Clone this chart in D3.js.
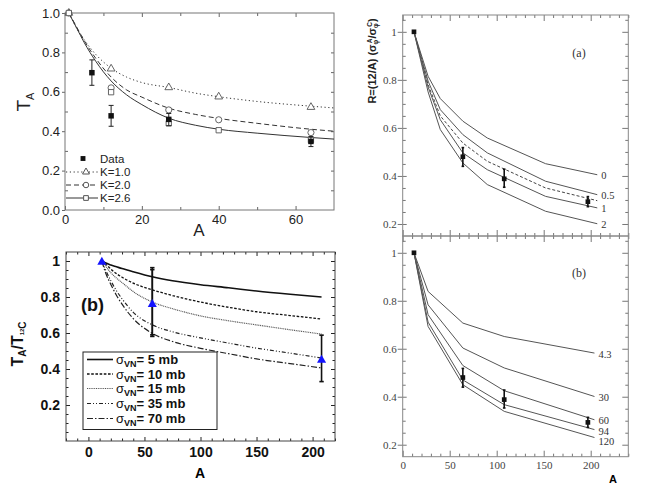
<!DOCTYPE html>
<html>
<head>
<meta charset="utf-8">
<script src="https://cdn.jsdelivr.net/npm/d3@7"></script>
<style>
body { margin: 0; background: #fff; }
svg { display: block; }
</style>
</head>
<body>
<svg id="fig" width="654" height="491"></svg>
<script>
// ---------- panel 1 (top left): T_A vs A ----------
const p1DataA  = [7, 12, 27, 64];
const p1DataT  = [0.697, 0.478, 0.460, 0.348];
const p1DataLo = [0.633, 0.425, 0.428, 0.322];
const p1DataHi = [0.762, 0.531, 0.490, 0.373];

const p1MarkA  = [1, 12, 27, 40, 64];
const p1MarkK10 = [1.0, 0.717, 0.622, 0.575, 0.522];
const p1MarkK20 = [1.0, 0.620, 0.508, 0.458, 0.393];
const p1MarkK26 = [1.0, 0.598, 0.440, 0.405, 0.355];

const p1CurveA  = [1, 3, 5, 8, 12, 16, 20, 27, 34, 40, 50, 64, 70];
const p1CurveK10 = [1.0, 0.924, 0.864, 0.790, 0.720, 0.675, 0.647, 0.622, 0.593, 0.575, 0.551, 0.527, 0.518];
const p1CurveK20 = [1.0, 0.930, 0.860, 0.770, 0.675, 0.610, 0.573, 0.517, 0.485, 0.465, 0.440, 0.410, 0.400];
const p1CurveK26 = [1.0, 0.925, 0.850, 0.755, 0.655, 0.585, 0.535, 0.466, 0.430, 0.410, 0.390, 0.368, 0.360];
const p1Legend = ["Data", "K=1.0", "K=2.0", "K=2.6"];

// ---------- panel 2 (bottom left): T_A/T_12C vs A ----------
const p2CurveA = [12, 15, 20, 25, 30, 40, 57, 75, 100, 125, 150, 180, 208];
const p2S5  = [1.0, 0.990, 0.978, 0.968, 0.958, 0.940, 0.912, 0.890, 0.868, 0.851, 0.833, 0.815, 0.800];
const p2S10 = [1.0, 0.985, 0.955, 0.930, 0.910, 0.877, 0.840, 0.808, 0.772, 0.743, 0.718, 0.697, 0.678];
const p2S15 = [1.0, 0.975, 0.935, 0.905, 0.880, 0.830, 0.772, 0.735, 0.695, 0.668, 0.645, 0.618, 0.594];
const p2S35 = [1.0, 0.955, 0.890, 0.835, 0.790, 0.715, 0.645, 0.607, 0.573, 0.544, 0.516, 0.488, 0.461];
const p2S70 = [1.0, 0.940, 0.870, 0.810, 0.760, 0.680, 0.598, 0.553, 0.515, 0.485, 0.456, 0.430, 0.406];
const p2SigmaLabels = [" 5 mb", "10 mb", "15 mb", "35 mb", "70 mb"];

const p2DataA = [12, 57, 208];
const p2DataT = [1.0, 0.765, 0.455];
const p2ErrA  = [57, 57, 208];
const p2ErrLo = [0.590, 0.581, 0.330];
const p2ErrHi = [0.963, 0.952, 0.588];

// ---------- panels 3/4 (right): R vs A ----------
const rDataA  = [12, 64, 108, 197];
const rDataR  = [1.0, 0.480, 0.388, 0.293];
const rDataLo = [null, 0.440, 0.353, 0.272];
const rDataHi = [null, 0.518, 0.428, 0.314];

const p3A   = [12, 27, 40, 64, 90, 152, 207];
const p3R0  = [1.0, 0.815, 0.722, 0.628, 0.558, 0.451, 0.405];
const p3R05 = [1.0, 0.795, 0.676, 0.572, 0.496, 0.378, 0.322];
const p3Rd  = [1.0, 0.780, 0.650, 0.537, 0.461, 0.350, 0.297];
const p3R1  = [1.0, 0.770, 0.634, 0.496, 0.426, 0.315, 0.267];
const p3R2  = [1.0, 0.750, 0.593, 0.454, 0.364, 0.253, 0.201];
const p3Labels = ["0", "0.5", "", "1", "2"];

const p4A    = [12, 27, 64, 108, 204];
const p4R43  = [1.0, 0.839, 0.707, 0.651, 0.582];
const p4R30  = [1.0, 0.783, 0.603, 0.520, 0.401];
const p4R60  = [1.0, 0.742, 0.530, 0.425, 0.304];
const p4R94  = [1.0, 0.711, 0.470, 0.367, 0.263];
const p4R120 = [1.0, 0.693, 0.450, 0.339, 0.230];
const p4Labels = ["4.3", "30", "60", "94", "120"];

// ---------- helpers ----------
const svg = d3.select("#fig");
const SANS = "'Liberation Sans', Arial, Helvetica, sans-serif";
const SERIF = "'Liberation Serif', 'Times New Roman', serif";

function tickRow(pos, axisGen, scale, vals, size, color, fmt, pad) {
  const g = svg.append("g").attr("transform", pos)
    .call(axisGen(scale).tickValues(vals).tickSize(size).tickPadding(pad || 3)
      .tickFormat(fmt || (() => "")));
  g.select(".domain").remove();
  g.selectAll("line").attr("stroke", color);
  return g;
}

function frame(b, color, w) {
  svg.append("rect")
    .attr("x", b.l).attr("y", b.t)
    .attr("width", b.r - b.l).attr("height", b.b - b.t)
    .attr("fill", "none").attr("stroke", color).attr("stroke-width", w);
}

function errBars(xs, ys, lo, hi, xS, yS, cap, color, w) {
  const g = svg.append("g").attr("stroke", color).attr("stroke-width", w);
  xs.forEach((a, i) => {
    if (lo[i] == null) return;
    const x = xS(a);
    g.append("line").attr("x1", x).attr("x2", x).attr("y1", yS(lo[i])).attr("y2", yS(hi[i]));
    [lo[i], hi[i]].forEach(v => g.append("line")
      .attr("x1", x - cap).attr("x2", x + cap).attr("y1", yS(v)).attr("y2", yS(v)));
  });
}

// =============== panel 1 ===============
const b1 = {l: 65, r: 334, t: 13, b: 210};
const x1 = d3.scaleLinear().domain([0, 70]).range([b1.l, b1.r]);
const y1 = d3.scaleLinear().domain([0, 1]).range([b1.b, b1.t]);
const c1 = "#666";

tickRow(`translate(0,${b1.b})`, d3.axisBottom, x1, [0, 20, 40, 60], -4, c1, d3.format("d"), 5)
  .attr("font-family", SANS).attr("font-size", 13).selectAll("text").attr("fill", "#222");
tickRow(`translate(0,${b1.b})`, d3.axisBottom, x1, [10, 30, 50], -3, c1);
tickRow(`translate(0,${b1.t})`, d3.axisTop, x1, [20, 40, 60], -4, c1);
tickRow(`translate(0,${b1.t})`, d3.axisTop, x1, [10, 30, 50], -3, c1);
tickRow(`translate(${b1.l},0)`, d3.axisLeft, y1, [0, 0.2, 0.4, 0.6, 0.8, 1.0], 3, c1, d3.format(".1f"), 2)
  .attr("font-family", SANS).attr("font-size", 13).selectAll("text").attr("fill", "#222");
tickRow(`translate(${b1.l},0)`, d3.axisLeft, y1, [0.1, 0.3, 0.5, 0.7, 0.9], -3, c1);
tickRow(`translate(${b1.r},0)`, d3.axisRight, y1, d3.range(1, 10).map(i => i / 10), -3, c1);
frame(b1, "#777", 1);

const line1 = d3.line().x((d, i) => x1(p1CurveA[i])).y(d => y1(d)).curve(d3.curveMonotoneX);
const p1Styles = [
  {v: p1CurveK10, m: p1MarkK10, dash: "1.2,2.6", sym: d3.symbolTriangle, size: 26},
  {v: p1CurveK20, m: p1MarkK20, dash: "5,3", sym: d3.symbolCircle, size: 30},
  {v: p1CurveK26, m: p1MarkK26, dash: null, sym: d3.symbolSquare, size: 28}
];
p1Styles.forEach(s => {
  svg.append("path").attr("d", line1(s.v)).attr("fill", "none")
    .attr("stroke", "#333").attr("stroke-width", 1).attr("stroke-dasharray", s.dash);
});
p1Styles.forEach(s => {
  svg.append("g").selectAll("path").data(s.m).join("path")
    .attr("transform", (d, i) => `translate(${x1(p1MarkA[i])},${y1(d)})`)
    .attr("d", d3.symbol(s.sym, s.size)).attr("fill", "#fff").attr("stroke", "#555").attr("stroke-width", 0.9);
});
errBars(p1DataA, p1DataT, p1DataLo, p1DataHi, x1, y1, 2.5, "#222", 1);
svg.append("g").selectAll("path").data(p1DataT).join("path")
  .attr("transform", (d, i) => `translate(${x1(p1DataA[i])},${y1(d)})`)
  .attr("d", d3.symbol(d3.symbolSquare, 30)).attr("fill", "#111");

// legend
const lg1Y = [158.5, 172, 185, 198];
svg.append("path").attr("transform", `translate(83,${lg1Y[0]})`)
  .attr("d", d3.symbol(d3.symbolSquare, 24)).attr("fill", "#111");
p1Styles.forEach((s, i) => {
  const y = lg1Y[i + 1];
  svg.append("line").attr("x1", 66).attr("x2", 98).attr("y1", y).attr("y2", y)
    .attr("stroke", "#333").attr("stroke-dasharray", s.dash);
  svg.append("path").attr("transform", `translate(86,${y})`)
    .attr("d", d3.symbol(s.sym, s.size * 0.8)).attr("fill", "#fff").attr("stroke", "#555");
});
svg.append("g").selectAll("text").data(p1Legend).join("text")
  .attr("x", 100).attr("y", (d, i) => lg1Y[i]).attr("dy", "0.36em")
  .attr("font-family", SANS).attr("font-size", 11.5).attr("fill", "#222").text(d => d);

svg.append("text").attr("x", 199).attr("y", 236).attr("text-anchor", "middle")
  .attr("font-family", SANS).attr("font-size", 17).attr("fill", "#222").text("A");
const t1 = svg.append("text").attr("transform", "translate(30,102) rotate(-90)")
  .attr("text-anchor", "middle").attr("font-family", SANS).attr("fill", "#222");
t1.append("tspan").attr("font-size", 19).text("T");
t1.append("tspan").attr("font-size", 11).attr("dy", 4).text("A");

// =============== panel 2 ===============
const b2 = {l: 66, r: 335, t: 252, b: 441};
const x2 = d3.scaleLinear().domain([-20, 220]).range([b2.l, b2.r]);
const y2 = d3.scaleLinear().domain([0, 1.05]).range([b2.b, b2.t]);
const c2 = "#222";
const minor2x = d3.range(-20, 221, 10).filter(v => v % 50 !== 0);
const minor2y = d3.range(1, 21).map(i => i * 0.05).filter((v, i) => (i + 1) % 4 !== 0);

tickRow(`translate(0,${b2.b})`, d3.axisBottom, x2, [0, 50, 100, 150, 200], -4, c2, d3.format("d"), 6)
  .attr("font-family", SANS).attr("font-size", 14).attr("font-weight", "bold")
  .selectAll("text").attr("fill", "#111");
tickRow(`translate(0,${b2.b})`, d3.axisBottom, x2, minor2x, -2.5, c2);
tickRow(`translate(0,${b2.t})`, d3.axisTop, x2, [0, 50, 100, 150, 200], -4, c2);
tickRow(`translate(0,${b2.t})`, d3.axisTop, x2, minor2x, -2.5, c2);
tickRow(`translate(${b2.l},0)`, d3.axisLeft, y2, [0.2, 0.4, 0.6, 0.8, 1], -4, c2, d3.format("~g"), 6)
  .attr("font-family", SANS).attr("font-size", 14).attr("font-weight", "bold")
  .selectAll("text").attr("fill", "#111");
tickRow(`translate(${b2.l},0)`, d3.axisLeft, y2, minor2y, -2.5, c2);
tickRow(`translate(${b2.r},0)`, d3.axisRight, y2, [0.2, 0.4, 0.6, 0.8, 1], -4, c2);
tickRow(`translate(${b2.r},0)`, d3.axisRight, y2, minor2y, -2.5, c2);
frame(b2, "#444", 1);

const line2 = d3.line().x((d, i) => x2(p2CurveA[i])).y(d => y2(d)).curve(d3.curveMonotoneX);
const p2Styles = [
  {v: p2S5,  dash: null,            w: 1.6, c: "#111"},
  {v: p2S10, dash: "2.6,1.6",       w: 1.3, c: "#111"},
  {v: p2S15, dash: "1,0.8",         w: 1.2, c: "#555"},
  {v: p2S35, dash: "4,2,1,2,1,2",   w: 1.2, c: "#222"},
  {v: p2S70, dash: "6,2,1.5,2",     w: 1.2, c: "#222"}
];
p2Styles.forEach(s => {
  svg.append("path").attr("d", line2(s.v)).attr("fill", "none")
    .attr("stroke", s.c).attr("stroke-width", s.w).attr("stroke-dasharray", s.dash);
});

// legend box
svg.append("rect").attr("x", 83).attr("y", 352).attr("width", 134).attr("height", 77.5)
  .attr("fill", "#fff").attr("stroke", "#222").attr("stroke-width", 1);
const lg2Y = [359.5, 374, 388.5, 403.5, 418.5];
p2Styles.forEach((s, i) => {
  svg.append("line").attr("x1", 87).attr("x2", 113).attr("y1", lg2Y[i]).attr("y2", lg2Y[i])
    .attr("stroke", s.c).attr("stroke-width", s.w).attr("stroke-dasharray", s.dash);
  const t = svg.append("text").attr("x", 116).attr("y", lg2Y[i]).attr("dy", "0.36em")
    .attr("font-family", SANS).attr("font-size", 13).attr("fill", "#111");
  t.append("tspan").text("σ");
  t.append("tspan").attr("font-size", 9).attr("font-weight", "bold").attr("dy", 3).text("VN");
  t.append("tspan").attr("font-weight", "bold").attr("dy", -3).text("= " + p2SigmaLabels[i]);
});

errBars(p2ErrA, p2ErrA, p2ErrLo, p2ErrHi, x2, y2, 2.2, "#111", 1.6);
svg.append("g").selectAll("path").data(p2DataT).join("path")
  .attr("transform", (d, i) => `translate(${x2(p2DataA[i])},${y2(d) + 1})`)
  .attr("d", d3.symbol(d3.symbolTriangle, 36)).attr("fill", "#1414ff");

svg.append("text").attr("x", 81).attr("y", 311).attr("font-family", SANS)
  .attr("font-size", 18).attr("font-weight", "bold").attr("fill", "#111").text("(b)");
svg.append("text").attr("x", 200).attr("y", 478).attr("text-anchor", "middle")
  .attr("font-family", SANS).attr("font-size", 14).attr("font-weight", "bold").text("A");
const t2 = svg.append("text").attr("transform", "translate(23,344) rotate(-90)")
  .attr("text-anchor", "middle").attr("font-family", SANS).attr("font-weight", "bold").attr("fill", "#111");
t2.append("tspan").attr("font-size", 16).text("T");
t2.append("tspan").attr("font-size", 10).attr("dy", 3).text("A");
t2.append("tspan").attr("font-size", 16).attr("dy", -3).text("/T");
t2.append("tspan").attr("font-size", 6).attr("dy", 1).text("12");
t2.append("tspan").attr("font-size", 10).attr("dy", 2).text("C");

// =============== panels 3 & 4 ===============
const xR = d3.scaleLinear().domain([0, 240]).range([402.7, 628.3]);
const b3 = {l: 402.7, r: 628.3, t: 15, b: 236};
const b4 = {l: 402.7, r: 628.3, t: 236, b: 456.7};
const y3 = d3.scaleLinear().domain([0.15, 1.07]).range([b3.b, b3.t]);
const y4 = d3.scaleLinear().domain([0.15, 1.07]).range([b4.b, b4.t]);
const cR = "#777";
const majR = [0, 50, 100, 150, 200];
const minR = d3.range(10, 241, 10).filter(v => v % 50 !== 0);
const majRy = [0.2, 0.4, 0.6, 0.8, 1];
const minRy = d3.range(4, 22).map(i => i * 0.05).filter(v => Math.abs(v * 5 - Math.round(v * 5)) > 1e-6);

[[b3, y3], [b4, y4]].forEach(([b, y]) => {
  tickRow(`translate(0,${b.b})`, d3.axisBottom, xR, majR, -6, cR);
  tickRow(`translate(0,${b.b})`, d3.axisBottom, xR, minR, -3, cR);
  tickRow(`translate(0,${b.t})`, d3.axisTop, xR, majR, -6, cR);
  tickRow(`translate(0,${b.t})`, d3.axisTop, xR, minR, -3, cR);
  tickRow(`translate(${b.l},0)`, d3.axisLeft, y, majRy, 5, cR, d3.format("~g"), 1)
    .attr("font-family", SERIF).attr("font-size", 11).selectAll("text").attr("fill", "#444");
  tickRow(`translate(${b.l},0)`, d3.axisLeft, y, majRy, -4, cR);
  tickRow(`translate(${b.l},0)`, d3.axisLeft, y, minRy, -3, cR);
  tickRow(`translate(${b.r},0)`, d3.axisRight, y, majRy, -6, cR);
  tickRow(`translate(${b.r},0)`, d3.axisRight, y, minRy, -3, cR);
  frame(b, "#888", 1);
});
tickRow(`translate(0,${b4.b})`, d3.axisBottom, xR, majR, 0, cR, d3.format("d"), 5)
  .attr("font-family", SERIF).attr("font-size", 11).selectAll("text").attr("fill", "#444");

function rPanel(xsA, series, labels, y, dashIdx) {
  const ln = d3.line().x((d, i) => xR(xsA[i])).y(d => y(d));
  series.forEach((v, k) => {
    svg.append("path").attr("d", ln(v)).attr("fill", "none")
      .attr("stroke", k === dashIdx ? "#444" : "#555").attr("stroke-width", 1)
      .attr("stroke-dasharray", k === dashIdx ? "3,2" : null);
  });
  let prev = -Infinity;
  series.forEach((v, k) => {
    if (!labels[k]) return;
    const ly = Math.max(y(v[v.length - 1]) + 1, prev + 10.5);
    prev = ly;
    svg.append("text").attr("x", xR(xsA[xsA.length - 1]) + 4).attr("y", ly).attr("dy", "0.33em")
      .attr("font-family", SERIF).attr("font-size", 10.5).attr("fill", "#333").text(labels[k]);
  });
  errBars(rDataA, rDataR, rDataLo, rDataHi, xR, y, 1.3, "#111", 1.6);
  svg.append("g").selectAll("path").data(rDataR).join("path")
    .attr("transform", (d, i) => `translate(${xR(rDataA[i])},${y(d)})`)
    .attr("d", d3.symbol(d3.symbolSquare, 22)).attr("fill", "#111");
}
rPanel(p3A, [p3R0, p3R05, p3Rd, p3R1, p3R2], p3Labels, y3, 2);
rPanel(p4A, [p4R43, p4R30, p4R60, p4R94, p4R120], p4Labels, y4, -1);

svg.append("text").attr("x", 579).attr("y", 57).attr("text-anchor", "middle")
  .attr("font-family", SERIF).attr("font-size", 12).attr("fill", "#333").text("(a)");
svg.append("text").attr("x", 579).attr("y", 277).attr("text-anchor", "middle")
  .attr("font-family", SERIF).attr("font-size", 12).attr("fill", "#333").text("(b)");
svg.append("text").attr("x", 613).attr("y", 483).attr("text-anchor", "middle")
  .attr("font-family", SANS).attr("font-size", 11).attr("font-weight", "bold").text("A");

const t3 = svg.append("text").attr("transform", "translate(376,61) rotate(-90)")
  .attr("text-anchor", "middle").attr("font-family", SANS).attr("font-weight", "bold")
  .attr("font-size", 11).attr("fill", "#222");
t3.append("tspan").text("R=(12/A) (σ");
t3.append("tspan").attr("font-size", 6.5).attr("dy", 2).text("φ");
t3.append("tspan").attr("font-size", 6.5).attr("dx", -3.5).attr("dy", -6).text("A");
t3.append("tspan").attr("dy", 4).text("/σ");
t3.append("tspan").attr("font-size", 6.5).attr("dy", 2).text("φ");
t3.append("tspan").attr("font-size", 6.5).attr("dx", -3.5).attr("dy", -6).text("C");
t3.append("tspan").attr("dy", 4).text(")");
</script>
</body>
</html>
